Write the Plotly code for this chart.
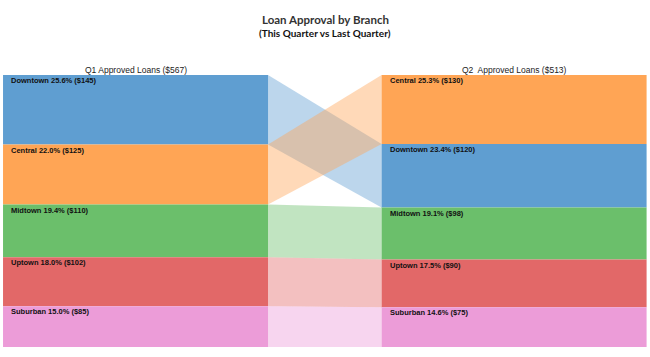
import plotly.graph_objects as go

branches = ["Downtown", "Central", "Midtown", "Uptown", "Suburban"]
q1_values = [145, 125, 110, 102, 85]
q2_values = [120, 130, 98, 90, 75]
q1_order = ["Downtown", "Central", "Midtown", "Uptown", "Suburban"]
q2_order = ["Central", "Downtown", "Midtown", "Uptown", "Suburban"]
column_titles = ["Q1 Approved Loans", "Q2  Approved Loans"]
colors = {"Downtown": "#5F9ED1", "Central": "#FFA555", "Midtown": "#6BBF6B",
          "Uptown": "#E26868", "Suburban": "#EC9CD8"}
ribbon_colors = {"Downtown": "rgba(95,158,209,0.42)", "Central": "rgba(255,165,85,0.42)",
                 "Midtown": "rgba(107,191,107,0.42)", "Uptown": "rgba(226,104,104,0.42)",
                 "Suburban": "rgba(236,156,216,0.42)"}

W = 0.70
cols = [0, 1]


def layout_column(values, order):
    vals = dict(zip(branches, values))
    total = sum(values)
    segs = {}
    top = 100.0
    for b in order:
        pct = vals[b] / total * 100
        segs[b] = (top - pct, top, pct, vals[b])
        top -= pct
    return segs, total


col_data = [layout_column(q1_values, q1_order), layout_column(q2_values, q2_order)]

fig = go.Figure()

# ribbons
l_seg, r_seg = col_data[0][0], col_data[1][0]
xl = cols[0] + W / 2
xr = cols[1] - W / 2
for b in branches:
    lb, lt = l_seg[b][0], l_seg[b][1]
    rb, rt = r_seg[b][0], r_seg[b][1]
    fig.add_trace(go.Scatter(x=[xl, xr, xr, xl, xl], y=[lt, rt, rb, lb, lt],
                             fill="toself", fillcolor=ribbon_colors[b], mode="lines",
                             line=dict(width=0), hoverinfo="skip", showlegend=False))

annotations = []
for ci, (segs, total) in enumerate(col_data):
    order = q1_order if ci == 0 else q2_order
    for b in order:
        base, top, pct, val = segs[b]
        fig.add_trace(go.Bar(x=[cols[ci]], y=[pct], base=[base], width=W,
                             marker=dict(color=colors[b], line=dict(width=0)),
                             showlegend=False, hoverinfo="skip"))
        annotations.append(dict(x=cols[ci] - W / 2 + 0.016, y=top, xref="x", yref="y",
                                xanchor="left", yanchor="top", yshift=1, showarrow=False,
                                text=f"<b>{b} {pct:.1f}% (${val})</b>",
                                font=dict(family="Liberation Sans, Arial", size=7.5, color="#111")))
    annotations.append(dict(x=cols[ci], y=100, xref="x", yref="y", xanchor="center",
                            yanchor="bottom", yshift=-2, showarrow=False,
                            text=f"{column_titles[ci]} (${total})",
                            font=dict(family="Liberation Sans, Arial", size=8.5, color="#222")))

annotations.append(dict(x=0.5, y=1, xref="paper", yref="paper", yshift=47, xanchor="center",
                        yanchor="bottom", showarrow=False, text="<b>Loan Approval by Branch</b>",
                        font=dict(family="Lato", size=11.5, color="#333")))
annotations.append(dict(x=0.5, y=1, xref="paper", yref="paper", yshift=34, xanchor="center",
                        yanchor="bottom", showarrow=False, text="<b>(This Quarter vs Last Quarter)</b>",
                        font=dict(family="Lato", size=10, color="#111")))

fig.update_layout(
    width=650, height=357, margin=dict(l=0, r=0, t=75, b=10),
    paper_bgcolor="white", plot_bgcolor="white", barmode="overlay",
    xaxis=dict(range=[-0.358, 1.359], visible=False, fixedrange=True),
    yaxis=dict(range=[0, 100], visible=False, fixedrange=True),
    annotations=annotations,
)

fig.write_html("out.html", config={"displayModeBar": False},
               post_script="document.body.style.margin='0';document.body.style.overflow='hidden';")
